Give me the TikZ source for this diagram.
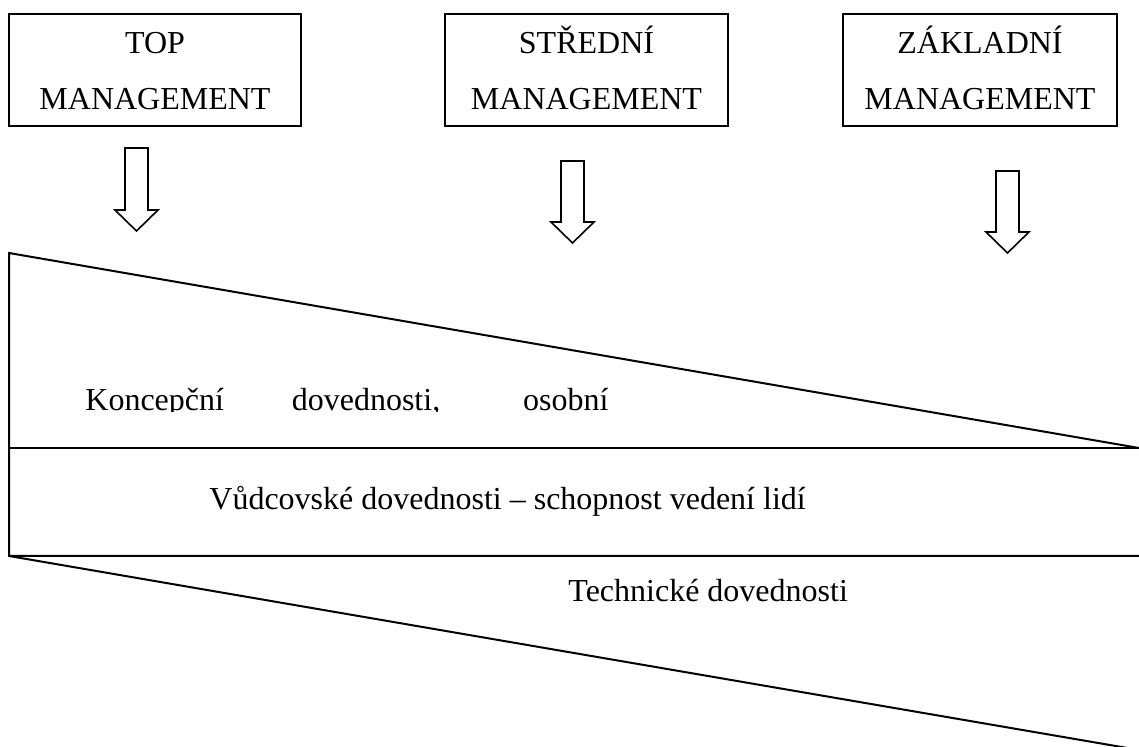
\documentclass[tikz,border=0pt]{standalone}
\usepackage{fontspec}
\setmainfont{Liberation Serif}
\usepackage{tikz}
\usetikzlibrary{positioning}

\tikzset{
  levelbox/.style={draw, line width=1pt, inner sep=0pt, minimum height=56pt,
    font=\fontsize{16}{28}\selectfont},
  skill/.style={inner sep=0pt, anchor=base west, font=\fontsize{16}{28}\selectfont},
  hollow/.style={draw, line width=0.8pt, line join=miter},
  band/.style={line width=1pt}
}

\begin{document}
\begin{tikzpicture}[x=0.5pt, y=-0.5pt]
\useasboundingbox (0,0) rectangle (1139,747);
% management levels
\node[levelbox, minimum width=146pt] (top) at (155,70)
  {\begin{tabular}{@{}c@{}}TOP\\MANAGEMENT\end{tabular}};
\node[levelbox, minimum width=141.5pt] (str) at (586.5,70)
  {\begin{tabular}{@{}c@{}}STŘEDNÍ\\MANAGEMENT\end{tabular}};
\node[levelbox, minimum width=137pt] (zak) at (980,70)
  {\begin{tabular}{@{}c@{}}ZÁKLADNÍ\\MANAGEMENT\end{tabular}};

% block arrows
\foreach \cx/\ty/\tip in {136.5/148/231, 572.5/161/243, 1007.5/171/253}
  \draw[hollow] (\cx-11.5,\ty) -- (\cx+11.5,\ty) -- (\cx+11.5,\tip-21)
    -- (\cx+21.5,\tip-21) -- (\cx,\tip) -- (\cx-21.5,\tip-21)
    -- (\cx-11.5,\tip-21) -- cycle;

% skill bands
\coordinate (tl) at (9,253);
\coordinate (ml) at (9,448);
\coordinate (mr) at (1139,448);
\coordinate (bl) at (9,556);
\coordinate (br) at (1139,556);
\coordinate (end) at (1139,750);
\draw[band] (mr) -- (tl) -- (bl) -- (br);
\draw[band] (ml) -- (mr);
\draw[band] (bl) -- (end);

\begin{scope}
\clip (0,0) rectangle (1139,411.5);
\node[skill] (konc) at (85,410.5)
  {\makebox[261.5pt][s]{Koncepční dovednosti, osobní}};
\end{scope}
\node[skill] (vudc) at (209,510) {Vůdcovské dovednosti – schopnost vedení lidí};
\node[skill] (tech) at (568,602) {Technické dovednosti};
\end{tikzpicture}
\end{document}
